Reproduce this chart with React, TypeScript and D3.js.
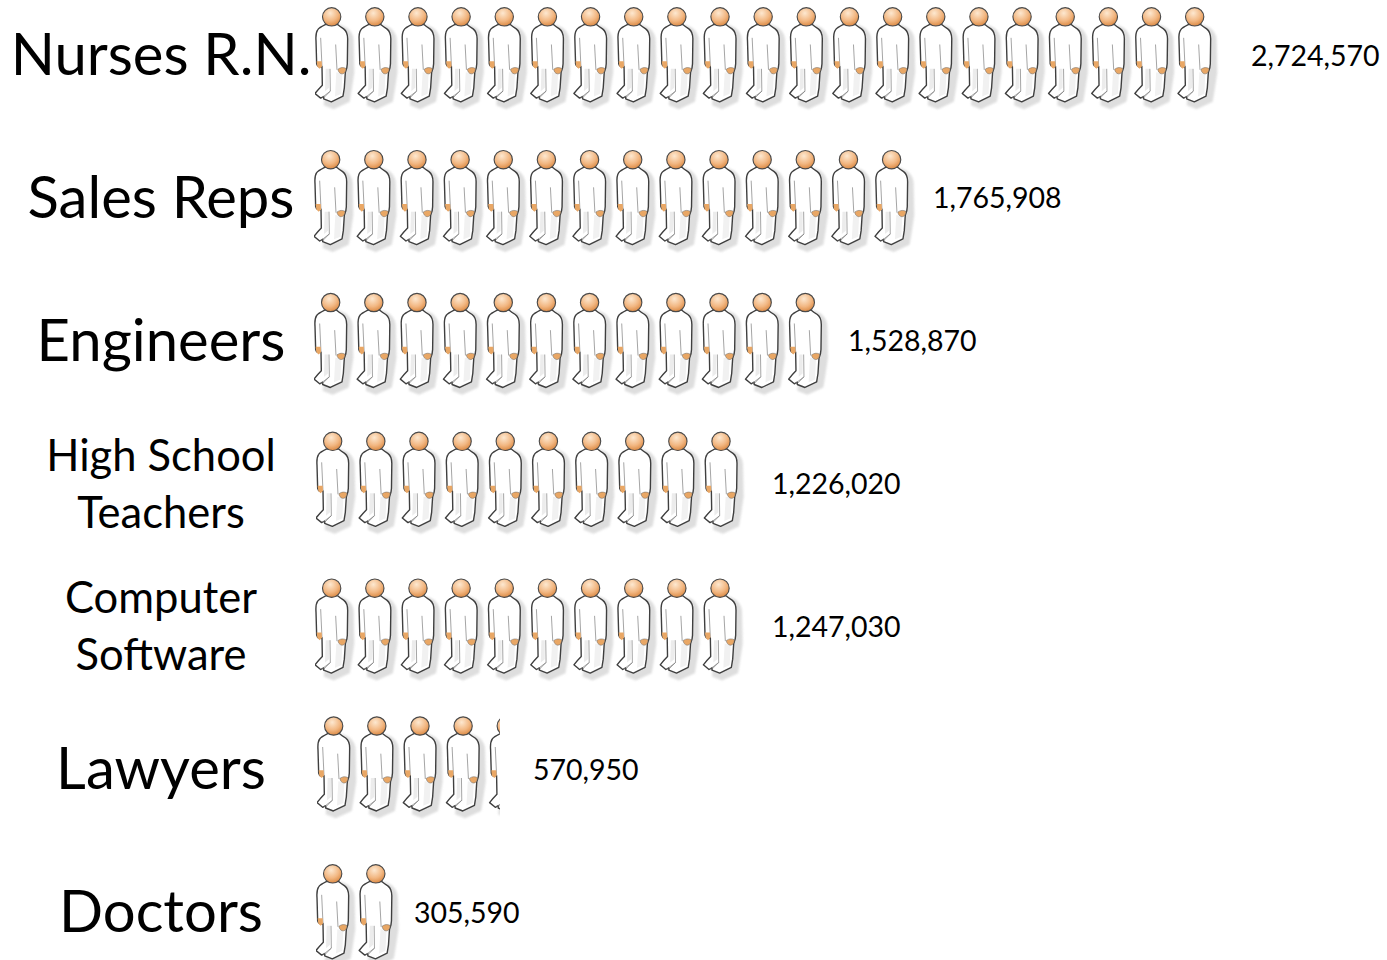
import React from "react";
import * as d3 from "d3";

// rows, top to bottom
const categories = ["Nurses R.N.", "Sales Reps", "Engineers", "High School Teachers", "Computer Software", "Lawyers", "Doctors"];
const labelLines = [["Nurses R.N."], ["Sales Reps"], ["Engineers"], ["High School", "Teachers"], ["Computer", "Software"], ["Lawyers"], ["Doctors"]];
const employed = [2724570, 1765908, 1528870, 1226020, 1247030, 570950, 305590];
// number of people drawn per row, the last one can be cut off
const iconCounts = [21, 14, 12, 10, 10, 4.24, 2];

// hand placed offsets in the original, the rows don't line up exactly
const rowNudgeX = [0, -1, -1, 1, 0, 2, 1];
const rowNudgeY = [0.5, 0.5, 0.5, -3.5, 0.5, -4.5, 0.5];
const valueLabelX = [1251, 933, 848, 772, 772, 533, 414];

const width = 1387;
const height = 960;
const PITCH = 43.15;

const y = d3.scalePoint<string>().domain(categories).range([55, 912]);
const x = d3.scaleLinear().domain([0, 21]).range([305, 305 + 21 * PITCH]);
const fmt = d3.format(",");

// outline of the figure, in 3x pixels of a single icon
const bodyPath =
  "M62,72 C50,78 42,82 38,88 C33,95 32,106 33,120 L35,190 C36,195 38,198 42,199 L51,198 " +
  "L52,254 C44,262 37,270 30,279 L47,293 L56,288 L56,295 L79,304 L114,287 L118,262 L121,216 " +
  "C125,206 127,200 127,190 L128,115 C128,100 124,91 116,85 C110,81 104,77 98,72 Z";
const shadowPath =
  "M100,70 L126,82 C140,94 146,106 146,122 L148,215 L140,268 L134,304 L86,326 L56,314 L58,294 L112,270 L116,90 Z";
const innerLines = ["M47,112 L51,198", "M92,132 L96,208", "M75,205 L76,272 L56,292", "M76,272 L50,292"];

function Person() {
  return (
    <g transform="scale(0.3333)">
      <path d={shadowPath} fill="#d6d6d6" opacity={0.8} filter="url(#soft)" />
      <path d={bodyPath} fill="#fff" stroke="#3f3f3f" strokeWidth={4.2} strokeLinejoin="round" />
      <path d="M62,205 L72,205 L72,262 L60,272 Z" fill="#ececec" />
      <path d="M94,215 L112,218 L109,280 L90,288 Z" fill="#f1f1f1" />
      {innerLines.map((d) => (
        <path key={d} d={d} fill="none" stroke="#777" strokeWidth={2} />
      ))}
      <path d="M35,182 L50,182 L51,198 L44,205 L37,198 Z" fill="#e9a765" />
      <path d="M99,206 C107,200 116,200 123,204 C123,213 118,221 110,220 C104,219 99,213 99,206 Z" fill="#e9a765" stroke="#666" strokeWidth={1.5} />
      <path d="M63,70 Q80,82 97,70 L94,64 L66,64 Z" fill="#e8503a" />
      <circle cx={80} cy={49} r={27.5} fill="url(#head)" stroke="#4a4a4a" strokeWidth={3.4} />
    </g>
  );
}

export default function App() {
  return (
    <svg width={width} height={height} style={{ position: "absolute", left: 0, top: 0 }} fontFamily="Lato, 'Open Sans', sans-serif">
      <defs>
        <radialGradient id="head" cx="0.42" cy="0.3" r="0.78">
          <stop offset="0" stopColor="#fde8d0" />
          <stop offset="0.55" stopColor="#f2b782" />
          <stop offset="1" stopColor="#d67f35" />
        </radialGradient>
        <filter id="soft" x="-20%" y="-20%" width="140%" height="140%">
          <feGaussianBlur stdDeviation={2.5} />
        </filter>
        {categories.map((c, r) => (
          <clipPath id={`row-${r}`} key={c}>
            <rect x={x(0) + 10} y={-20} width={x(iconCounts[r]) - x(0)} height={140} />
          </clipPath>
        ))}
      </defs>

      {categories.map((c, r) => {
        const cy = y(c) as number;
        const lines = labelLines[r];
        return (
          <g key={c}>
            {lines.length === 1 ? (
              <text x={161} y={cy + 20} textAnchor="middle" fontSize={58} fill="#000">
                {lines[0]}
              </text>
            ) : (
              lines.map((t, i) => (
                <text key={t} x={161} y={cy + (i === 0 ? -13 : 44)} textAnchor="middle" fontSize={43.5} fill="#000">
                  {t}
                </text>
              ))
            )}
            <g transform={`translate(${rowNudgeX[r]},${cy - 55 + rowNudgeY[r]})`} clipPath={`url(#row-${r})`}>
              {d3.range(Math.ceil(iconCounts[r])).map((i) => (
                <g key={i} transform={`translate(${x(i)},0)`}>
                  <Person />
                </g>
              ))}
            </g>
            <text x={valueLabelX[r]} y={cy + 10.5} fontSize={28.5} fill="#000">
              {fmt(employed[r])}
            </text>
          </g>
        );
      })}
    </svg>
  );
}
